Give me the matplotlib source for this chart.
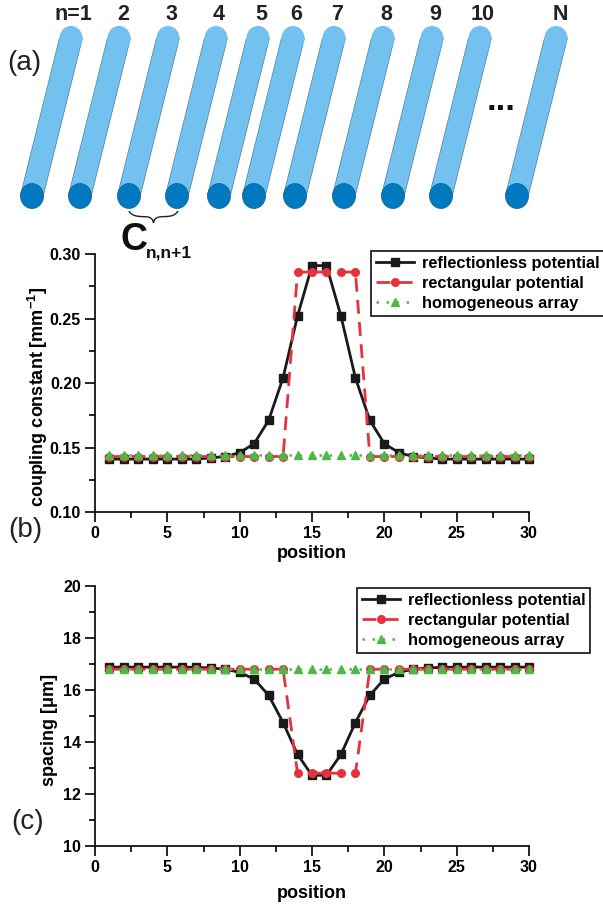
import matplotlib
matplotlib.use('Agg')
import matplotlib.pyplot as plt
from matplotlib.patches import Ellipse, Polygon, PathPatch
from matplotlib.path import Path
from matplotlib.ticker import MultipleLocator

plt.rcParams['font.family'] = ['Liberation Sans', 'DejaVu Sans']
plt.rcParams['mathtext.fontset'] = 'custom'
plt.rcParams['mathtext.bf'] = 'Liberation Sans:bold'
plt.rcParams['mathtext.rm'] = 'Liberation Sans:bold'

W, H = 603, 905

# data
position = list(range(1, 31))
coupling_reflectionless = [0.141, 0.141, 0.141, 0.141, 0.141, 0.141, 0.141, 0.142, 0.143, 0.146,
                           0.153, 0.171, 0.204, 0.252, 0.291, 0.291, 0.252, 0.204, 0.171, 0.153,
                           0.146, 0.143, 0.142, 0.141, 0.141, 0.141, 0.141, 0.141, 0.141, 0.141]
coupling_rectangular = [0.143] * 13 + [0.286] * 5 + [0.143] * 12
coupling_homogeneous = [0.144] * 30
spacing_reflectionless = [16.88, 16.88, 16.88, 16.88, 16.88, 16.88, 16.87, 16.85, 16.8, 16.68,
                          16.42, 15.8, 14.75, 13.52, 12.72, 12.72, 13.52, 14.75, 15.8, 16.42,
                          16.68, 16.8, 16.85, 16.87, 16.88, 16.88, 16.88, 16.88, 16.88, 16.88]
spacing_rectangular = [16.8] * 13 + [12.8] * 5 + [16.8] * 12
spacing_homogeneous = [16.8] * 30

rod_bottoms = [32, 80, 129, 177, 219, 254, 295, 344, 393, 441, 517]
rod_labels = ['n=1', '2', '3', '4', '5', '6', '7', '8', '9', '10', 'N']
label_x = [73, 123, 171, 219, 261, 296, 337, 386, 435, 483, 560]


def px_axes(left, right, top, bottom):
    return fig.add_axes([left / W, 1 - bottom / H, (right - left) / W, (bottom - top) / H])


def draw_panel(ax, ys, ylim, major, ylabel, legend_anchor, ylabel_size, ylabel_pad, xlabel_pad):
    y1, y2, y3 = ys
    ax.plot(position, y1, color='#1a1a1a', lw=2, marker='s', ms=5.3, clip_on=False, zorder=3,
            label='reflectionless potential')
    ax.plot(position, y2, color='#e5323c', lw=2, ls=(0, (5, 3)), marker='o', ms=5.5, clip_on=False, zorder=4,
            label='rectangular potential')
    ax.plot(position, y3, color='#4db848', lw=1.8, ls=(0, (1, 3)), marker='^', ms=5.6, clip_on=False, zorder=5,
            label='homogeneous array')
    ax.set_xlim(0, 30)
    ax.set_ylim(*ylim)
    ax.xaxis.set_major_locator(MultipleLocator(5))
    ax.xaxis.set_minor_locator(MultipleLocator(2.5))
    ax.yaxis.set_major_locator(MultipleLocator(major))
    ax.yaxis.set_minor_locator(MultipleLocator(major / 2))
    ax.spines['top'].set_visible(False)
    ax.spines['right'].set_visible(False)
    for s in ('left', 'bottom'):
        ax.spines[s].set_linewidth(1.2)
    ax.tick_params(which='major', length=7, width=1.2, labelsize=11.5, pad=3)
    ax.tick_params(which='minor', length=4, width=1.2)
    ax.set_xlabel('position', fontsize=13, fontweight='bold', labelpad=xlabel_pad)
    ax.set_ylabel(ylabel, fontsize=ylabel_size, fontweight='bold', labelpad=ylabel_pad, y=0.445)
    leg = ax.legend(loc='upper left', bbox_to_anchor=legend_anchor, bbox_transform=fig.transFigure,
                    frameon=True, fancybox=False, framealpha=1, edgecolor='#222222',
                    prop={'weight': 'bold', 'size': 11.8}, borderaxespad=0, borderpad=0.3,
                    labelspacing=0.3, handlelength=2.3, handletextpad=0.5)
    leg.get_frame().set_linewidth(1.3)


fig = plt.figure(figsize=(W / 100, H / 100), dpi=100)

# schematic in pixel coordinates
bg = fig.add_axes([0, 0, 1, 1])
bg.set_xlim(0, W)
bg.set_ylim(H, 0)
bg.axis('off')

for xb, lab, lx in zip(rod_bottoms, rod_labels, label_x):
    xt = xb + 39
    bg.add_patch(Polygon([(xb - 11.5, 195), (xt - 11.5, 38), (xt + 11.5, 38), (xb + 11.5, 195)],
                         fc='#72c1ef', ec='#4a7f9e', lw=0.5, zorder=1))
    bg.add_patch(Ellipse((xt, 38), 23, 24, fc='#72c1ef', ec='none', zorder=2))
    bg.add_patch(Ellipse((xb, 196), 23, 25, fc='#0079c1', ec='#0a5f94', lw=0.5, zorder=3))
    bg.text(lx, 15, lab, ha='center', va='center', fontsize=15.5, fontweight='bold', color='#222222')

bg.text(501, 110, '...', ha='center', va='baseline', fontsize=25, fontweight='bold', color='#111111')
bg.text(7, 63, '(a)', ha='left', va='center', fontsize=20, color='#222222')
bg.text(8, 530, '(b)', ha='left', va='center', fontsize=20, color='#222222')
bg.text(11, 822, '(c)', ha='left', va='center', fontsize=20, color='#222222')

# brace under rods 2 and 3
brace_path = Path([(129, 211), (133, 218), (142, 216), (148, 217), (152, 218), (153, 220), (153.5, 223),
                   (154, 220), (155, 218), (159, 217), (165, 216), (174, 218), (178, 211)],
                  [Path.MOVETO] + [Path.CURVE4] * 12)
bg.add_patch(PathPatch(brace_path, fc='none', ec='#222222', lw=1, zorder=3))
bg.text(121, 250, 'C', ha='left', va='baseline', fontsize=27, fontweight='bold', color='#111111')
bg.text(146, 257, 'n,n+1', ha='left', va='baseline', fontsize=12.5, fontweight='bold', color='#111111')

ax_b = px_axes(95, 529, 254, 512)
ax_b.patch.set_alpha(0)
draw_panel(ax_b, (coupling_reflectionless, coupling_rectangular, coupling_homogeneous),
           (0.10, 0.30), 0.05, r'coupling constant [mm$^{\mathbf{-1}}$]', (371 / W, 1 - 251 / H), 13, 0, 3)
ax_b.yaxis.set_major_formatter('{x:.2f}')

ax_c = px_axes(95, 529, 586, 846)
ax_c.patch.set_alpha(0)
draw_panel(ax_c, (spacing_reflectionless, spacing_rectangular, spacing_homogeneous),
           (10, 20), 2, 'spacing [\u03bcm]', (357 / W, 1 - 588 / H), 13, 4, 7)

for ax in (ax_b, ax_c):
    for t in ax.get_xticklabels() + ax.get_yticklabels():
        t.set_fontweight('bold')

fig.savefig('out.png', dpi=100)
